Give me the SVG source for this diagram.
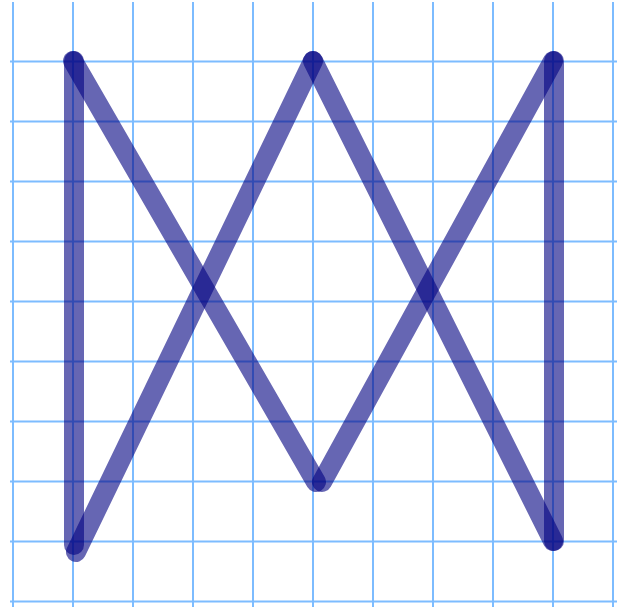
<svg xmlns="http://www.w3.org/2000/svg" width="624" height="607" viewBox="0 0 624 607">
  <style>
    .grid line { stroke: #7dbcff; stroke-width: 2; }
    .stroke { stroke: #000080; stroke-opacity: 0.6; stroke-width: 20; stroke-linecap: round; fill: none; }
  </style>
  <rect width="624" height="607" fill="#ffffff"/>
  <g id="grid" class="grid">
    <line x1="13" y1="2" x2="13" y2="607"/>
    <line x1="73" y1="2" x2="73" y2="607"/>
    <line x1="133" y1="2" x2="133" y2="607"/>
    <line x1="193" y1="2" x2="193" y2="607"/>
    <line x1="253" y1="2" x2="253" y2="607"/>
    <line x1="313" y1="2" x2="313" y2="607"/>
    <line x1="373" y1="2" x2="373" y2="607"/>
    <line x1="433" y1="2" x2="433" y2="607"/>
    <line x1="493" y1="2" x2="493" y2="607"/>
    <line x1="553" y1="2" x2="553" y2="607"/>
    <line x1="613" y1="2" x2="613" y2="607"/>
    <line x1="10" y1="61.5" x2="617" y2="61.5"/>
    <line x1="10" y1="121.5" x2="617" y2="121.5"/>
    <line x1="10" y1="181.5" x2="617" y2="181.5"/>
    <line x1="10" y1="241.5" x2="617" y2="241.5"/>
    <line x1="10" y1="301.5" x2="617" y2="301.5"/>
    <line x1="10" y1="361.5" x2="617" y2="361.5"/>
    <line x1="10" y1="421.5" x2="617" y2="421.5"/>
    <line x1="10" y1="481.5" x2="617" y2="481.5"/>
    <line x1="10" y1="541.5" x2="617" y2="541.5"/>
    <line x1="10" y1="601.5" x2="617" y2="601.5"/>
  </g>
  <g id="connectors">
    <line class="stroke" x1="74" y1="61" x2="74" y2="545" stroke-width="22"/>
    <line class="stroke" x1="73" y1="61" x2="316" y2="482"/>
    <line class="stroke" x1="76" y1="552" x2="313" y2="61"/>
    <line class="stroke" x1="313" y1="61" x2="553" y2="541"/>
    <line class="stroke" x1="322" y1="482" x2="553" y2="61"/>
    <line class="stroke" x1="554" y1="61" x2="554" y2="541"/>
  </g>
</svg>
